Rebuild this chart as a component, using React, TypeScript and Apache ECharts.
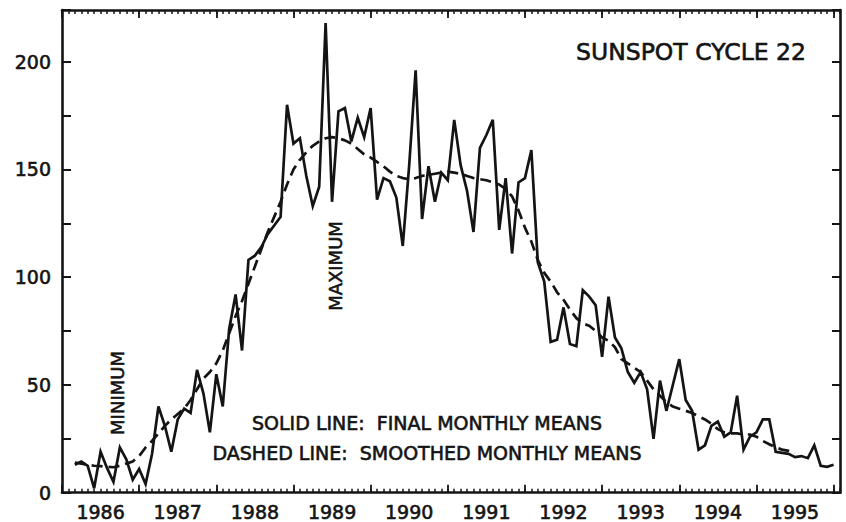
import React, { useEffect, useRef } from "react";
import * as echarts from "echarts";

// ---- categories ----
const YEARS = [1986, 1987, 1988, 1989, 1990, 1991, 1992, 1993, 1994, 1995, 1996];
const MONTH_CODES = ["01", "02", "03", "04", "05", "06", "07", "08", "09", "10", "11", "12"];
const MONTHS_SHOWN_1996 = 2;

// ---- final monthly means (solid line) ----
const MONTHLY_1986 = [null, null, 13, 14.5, 12.5, 2, 19, 11.5, 5, 21, 15.5, 6];
const MONTHLY_1987 = [11, 4, 18, 40, 31, 19, 34, 39, 37, 57, 46, 28];
const MONTHLY_1988 = [55, 40, 76, 92, 66, 108, 110, 114, 120, 124, 128, 180];
const MONTHLY_1989 = [162, 164.5, 147, 133, 142, 218, 135, 177, 178.5, 163, 174, 165];
const MONTHLY_1990 = [178.5, 136, 146, 144.5, 137, 114.5, 152, 196, 127, 151.5, 135, 148.5];
const MONTHLY_1991 = [145, 173, 152, 140, 121, 160, 166, 173, 122, 146, 111, 144];
const MONTHLY_1992 = [146, 159, 107, 98, 70, 71, 86, 69, 68, 94, 91, 87];
const MONTHLY_1993 = [63, 91, 72, 67, 56, 51, 56, 48, 25, 52, 38, 50];
const MONTHLY_1994 = [62, 43, 38, 20, 22, 31, 33, 26, 28, 45, 20, 26];
const MONTHLY_1995 = [28, 34, 34, 19, 18.5, 18, 16.5, 17, 16, 22, 12.5, 12];
const MONTHLY_1996 = [13, null];

// ---- smoothed monthly means (dashed line) ----
const SMOOTHED_1986 = [null, null, 14, 13.5, 13, 12.5, 12.3, 12, 11.8, 12.5, 13.5, 14.5];
const SMOOTHED_1987 = [17, 21, 24, 27.5, 31, 34, 36.5, 39, 43, 48, 53, 56];
const SMOOTHED_1988 = [60, 66, 74, 82, 89, 97, 105, 113, 121, 128, 135, 143];
const SMOOTHED_1989 = [150, 154.5, 158, 161, 163, 164.5, 165, 164.5, 163.5, 162, 159.5, 157];
const SMOOTHED_1990 = [155.5, 153.5, 151.5, 149, 147, 146, 145.5, 146, 147, 147.5, 148, 148.5];
const SMOOTHED_1991 = [149, 148.5, 148, 147, 146, 145.5, 145, 144, 143, 141, 137.5, 131];
const SMOOTHED_1992 = [123, 116.5, 108, 102, 98, 93, 89.5, 85, 81, 78.5, 77.5, 75];
const SMOOTHED_1993 = [72, 70.5, 67.5, 62, 60, 58, 56, 52, 48, 45, 42, 40];
const SMOOTHED_1994 = [39, 38, 37, 35.5, 34, 32, 29.5, 28, 27.5, 27.5, 27, 27];
const SMOOTHED_1995 = [26, 24, 22.5, 21, 20, 19.4, 18.5, null, null, null, null, null];
const SMOOTHED_1996 = [null, null];

// ---- axis ticks ----
const Y_MIN = 0;
const Y_MAX = 224;
const Y_TICK_STEP = 25;
const Y_TICK_LABELS = [0, 50, 100, 150, 200];

// ---- annotations ----
const TITLE_TEXT = "SUNSPOT CYCLE 22";
const LEGEND_SOLID = "SOLID LINE:  FINAL MONTHLY MEANS";
const LEGEND_DASHED = "DASHED LINE:  SMOOTHED MONTHLY MEANS";
const MIN_LABEL = "MINIMUM";
const MAX_LABEL = "MAXIMUM";

const INK = "#141414";
const FONT = '"DejaVu Sans", "Liberation Sans", sans-serif';

export default function App() {
  const ref = useRef<HTMLDivElement | null>(null);

  useEffect(() => {
    document.body.style.margin = "0";
    if (!ref.current) return;
    const chart = echarts.init(ref.current, undefined, { renderer: "svg" });

    const categories: string[] = YEARS.flatMap((y) =>
      (y === 1996 ? MONTH_CODES.slice(0, MONTHS_SHOWN_1996) : MONTH_CODES).map((m) => `${y}-${m}`)
    );
    const monthly = [
      ...MONTHLY_1986, ...MONTHLY_1987, ...MONTHLY_1988, ...MONTHLY_1989, ...MONTHLY_1990,
      ...MONTHLY_1991, ...MONTHLY_1992, ...MONTHLY_1993, ...MONTHLY_1994, ...MONTHLY_1995,
      ...MONTHLY_1996,
    ];
    const smoothed = [
      ...SMOOTHED_1986, ...SMOOTHED_1987, ...SMOOTHED_1988, ...SMOOTHED_1989, ...SMOOTHED_1990,
      ...SMOOTHED_1991, ...SMOOTHED_1992, ...SMOOTHED_1993, ...SMOOTHED_1994, ...SMOOTHED_1995,
      ...SMOOTHED_1996,
    ];

    const isJan = (_i: number, v: string) => v.endsWith("-01");
    const isJul = (_i: number, v: string) => v.endsWith("-07");

    const frameLine = { show: true, lineStyle: { color: INK, width: 2.6 } };
    const minorTick = { show: true, inside: true, length: 4, interval: 0, lineStyle: { color: INK, width: 1.5 } };
    const majorTick = { show: true, inside: true, length: 8, interval: isJan, lineStyle: { color: INK, width: 1.8 } };

    const baseX = { type: "category", data: categories, boundaryGap: false, gridIndex: 0, splitLine: { show: false } };

    const labelText = {
      color: INK,
      fontFamily: FONT,
      fontSize: 19,
      textBorderColor: INK,
      textBorderWidth: 0.6,
    };
    const annot = (text: string, size: number) => ({
      text,
      font: `${size}px ${FONT}`,
      fill: INK,
      stroke: INK,
      lineWidth: 0.6,
      textAlign: "center",
      textVerticalAlign: "middle",
    });

    chart.setOption({
      animation: false,
      backgroundColor: "#ffffff",
      grid: { left: 62, right: 6, top: 10, bottom: 29, containLabel: false },
      xAxis: [
        {
          ...baseX,
          position: "bottom",
          axisLine: frameLine,
          axisTick: minorTick,
          axisLabel: {
            show: true,
            interval: isJul,
            formatter: (v: string) => v.slice(0, 4),
            margin: 10,
            ...labelText,
          },
        },
        {
          ...baseX,
          position: "bottom",
          axisLine: { show: false },
          axisTick: majorTick,
          axisLabel: { show: false },
        },
        {
          ...baseX,
          position: "top",
          axisLine: frameLine,
          axisTick: minorTick,
          axisLabel: { show: false },
        },
        {
          ...baseX,
          position: "top",
          axisLine: { show: false },
          axisTick: majorTick,
          axisLabel: { show: false },
        },
      ],
      yAxis: [
        {
          type: "value",
          position: "left",
          min: Y_MIN,
          max: Y_MAX,
          interval: Y_TICK_STEP,
          splitLine: { show: false },
          axisLine: frameLine,
          axisTick: { show: true, inside: true, length: 9, lineStyle: { color: INK, width: 2 } },
          axisLabel: {
            show: true,
            formatter: (v: number) => (Y_TICK_LABELS.includes(v) ? String(v) : ""),
            margin: 11,
            ...labelText,
          },
        },
        {
          type: "value",
          position: "right",
          min: Y_MIN,
          max: Y_MAX,
          interval: Y_TICK_STEP,
          splitLine: { show: false },
          axisLine: frameLine,
          axisTick: { show: true, inside: true, length: 8, lineStyle: { color: INK, width: 2 } },
          axisLabel: { show: false },
        },
      ],
      series: [
        {
          name: "Final monthly means",
          type: "line",
          xAxisIndex: 0,
          yAxisIndex: 0,
          data: monthly,
          showSymbol: false,
          symbol: "none",
          connectNulls: false,
          lineStyle: { color: INK, width: 2.7, join: "miter" },
          z: 3,
        },
        {
          name: "Smoothed monthly means",
          type: "line",
          xAxisIndex: 0,
          yAxisIndex: 0,
          data: smoothed,
          showSymbol: false,
          symbol: "none",
          connectNulls: false,
          lineStyle: { color: INK, width: 2.7, type: [11, 6] },
          z: 2,
        },
      ],
      graphic: [
        { type: "text", x: 691, y: 52, style: annot(TITLE_TEXT, 23.5) },
        { type: "text", x: 427, y: 423, style: annot(LEGEND_SOLID, 19) },
        { type: "text", x: 427, y: 453, style: annot(LEGEND_DASHED, 19) },
        { type: "text", x: 117, y: 393, rotation: Math.PI / 2, style: annot(MIN_LABEL, 18) },
        { type: "text", x: 335, y: 266, rotation: Math.PI / 2, style: annot(MAX_LABEL, 18) },
      ],
    });

    return () => chart.dispose();
  }, []);

  return (
    <div
      ref={ref}
      style={{ position: "fixed", left: 0, top: 0, width: 846, height: 522, background: "#ffffff" }}
    />
  );
}
